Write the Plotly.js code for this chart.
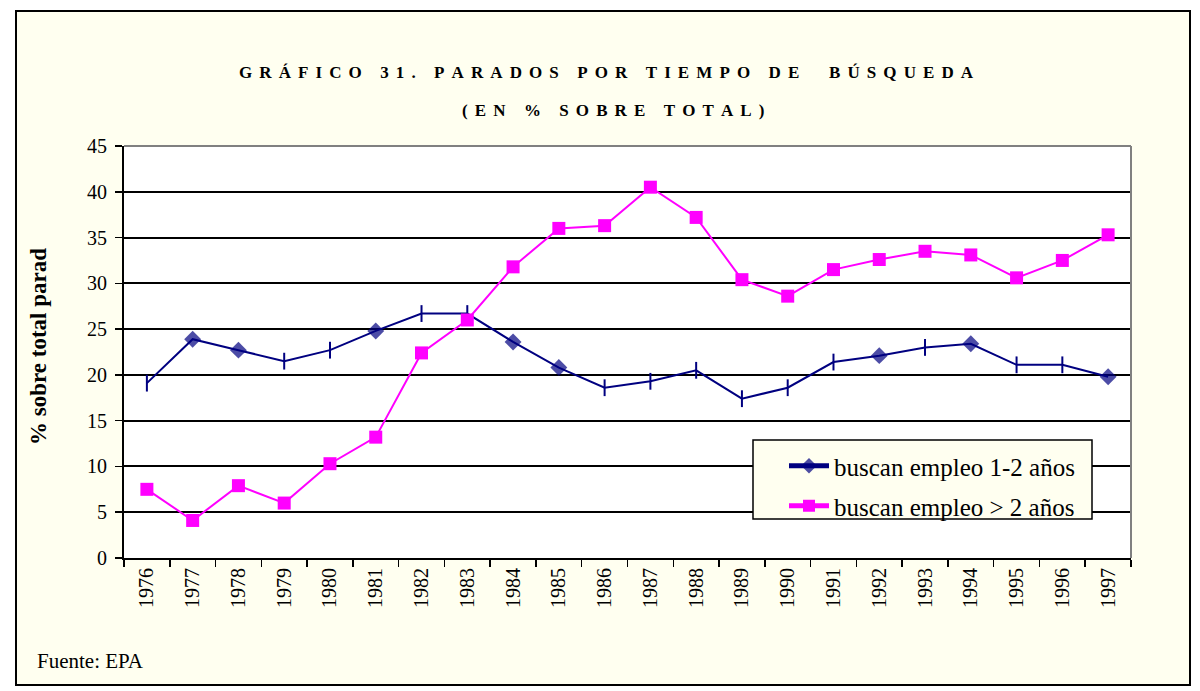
<!DOCTYPE html>
<html>
<head>
<meta charset="utf-8">
<script src="https://cdn.plot.ly/plotly-3.0.1.min.js"></script>
<style>
  html, body { margin: 0; padding: 0; background: #ffffff; }
  #frame { position: absolute; left: 15px; top: 10px; width: 1176px; height: 676px;
           box-sizing: border-box; border: 2px solid #000; background: #FFFFF0; }
  #chart { position: absolute; left: 0; top: 0; width: 1200px; height: 691px; }
</style>
</head>
<body>
<div id="frame"></div>
<div id="chart"></div>
<script>
// ---- data ----
const years = ['1976','1977','1978','1979','1980','1981','1982','1983','1984','1985','1986',
               '1987','1988','1989','1990','1991','1992','1993','1994','1995','1996','1997'];
const busca12 = [19.1, 23.9, 22.7, 21.5, 22.7, 24.8, 26.7, 26.7, 23.6, 20.8, 18.6,
                 19.3, 20.5, 17.4, 18.6, 21.4, 22.1, 23.0, 23.4, 21.1, 21.1, 19.8];
const buscaMas2 = [7.5, 4.1, 7.9, 6.0, 10.3, 13.2, 22.4, 26.0, 31.8, 36.0, 36.3,
                   40.5, 37.2, 30.4, 28.6, 31.5, 32.6, 33.5, 33.1, 30.6, 32.5, 35.3];
const seriesNames = ['buscan empleo 1-2 años', 'buscan empleo > 2 años'];
const titleLine1 = 'GRÁFICO 31. PARADOS POR TIEMPO DE  BÚSQUEDA';
const titleLine2 = '(EN % SOBRE TOTAL)';
const yLabel = '% sobre total parad';
const source = 'Fuente: EPA';

// ---- style ----
const NAVY = '#000080', MAGENTA = '#FF00FF';
const SERIF = '"Liberation Serif", "Times New Roman", Times, serif';
// which points of the navy series show a diamond (others show a short vertical tick)
const diamondYears = ['1977','1978','1981','1984','1985','1992','1994','1997'];

function spaced(s) {
  let out = '';
  for (let i = 0; i < s.length; i++) {
    out += s[i];
    if (i < s.length - 1) out += '\u2004\u200a';
  }
  return out;
}

const isD = years.map(y => diamondYears.includes(y));
const tickX = years.filter((y, i) => !isD[i]);
const tickY = busca12.filter((v, i) => !isD[i]);

const traces = [
  {
    x: years, y: busca12, name: seriesNames[0], type: 'scatter', mode: 'lines+markers',
    line: { color: NAVY, width: 2 },
    marker: { symbol: 'diamond', color: NAVY, size: isD.map(d => d ? 13 : 0), line: { width: 0 } },
    legend: 'legend', cliponaxis: false
  },
  {
    x: tickX, y: tickY, type: 'scatter', mode: 'markers', showlegend: false, hoverinfo: 'skip',
    marker: { symbol: 'line-ns', size: 12, color: NAVY, line: { color: NAVY, width: 2 } }
  },
  {
    x: years, y: buscaMas2, name: seriesNames[1], type: 'scatter', mode: 'lines+markers',
    line: { color: MAGENTA, width: 2 },
    marker: { symbol: 'square', color: MAGENTA, size: 13, line: { width: 0 } },
    legend: 'legend2', cliponaxis: false
  }
];

const L = 124, R = 1131, T = 146, B = 558;
const px = v => (v - L) / (R - L);
const py = v => (B - v) / (B - T);

const legendCommon = {
  bgcolor: 'rgba(0,0,0,0)', borderwidth: 0, itemsizing: 'constant', itemwidth: 40,
  font: { family: SERIF, size: 25, color: '#000' }, xanchor: 'left', yanchor: 'middle'
};

const layout = {
  width: 1200, height: 691,
  margin: { l: L, r: 1200 - R, t: T, b: 691 - B, pad: 0 },
  paper_bgcolor: 'rgba(0,0,0,0)', plot_bgcolor: '#ffffff',
  font: { family: SERIF, color: '#000' },
  showlegend: true,
  xaxis: {
    type: 'category', categoryorder: 'array', categoryarray: years,
    range: [-0.5, years.length - 0.5],
    tickson: 'boundaries', ticks: 'outside', ticklen: 7, tickwidth: 1.5, tickcolor: '#000',
    tickangle: -90, tickfont: { family: SERIF, size: 20, color: '#000' },
    showline: true, linecolor: '#000', linewidth: 2, showgrid: false, zeroline: false,
    fixedrange: true
  },
  yaxis: {
    range: [0, 45], dtick: 5, tick0: 0, ticks: 'outside', ticklen: 7, tickwidth: 1.5, tickcolor: '#000',
    tickfont: { family: SERIF, size: 20, color: '#000' }, ticklabelstandoff: 4,
    showline: true, linecolor: '#000', linewidth: 2,
    showgrid: true, gridcolor: '#000', gridwidth: 2, zeroline: false, fixedrange: true
  },
  legend: Object.assign({}, legendCommon, { x: px(784), y: py(466) }),
  legend2: Object.assign({}, legendCommon, { x: px(784), y: py(506) }),
  shapes: [
    { type: 'line', xref: 'paper', yref: 'paper', x0: 0, x1: 1, y0: 1, y1: 1,
      line: { color: '#808080', width: 2 }, layer: 'above' },
    { type: 'line', xref: 'paper', yref: 'paper', x0: 1, x1: 1, y0: 0, y1: 1,
      line: { color: '#808080', width: 2 }, layer: 'above' },
    { type: 'rect', xref: 'paper', yref: 'paper', x0: px(753), x1: px(1092), y0: py(519), y1: py(440),
      fillcolor: '#FFFFF0', line: { color: '#000', width: 1.5 }, layer: 'above' }
  ],
  annotations: [
    { text: '<b>' + spaced(titleLine1) + '</b>', xref: 'paper', yref: 'paper', x: px(606), y: py(73),
      xanchor: 'center', yanchor: 'middle', showarrow: false,
      font: { family: SERIF, size: 17, color: '#000' } },
    { text: '<b>' + spaced(titleLine2) + '</b>', xref: 'paper', yref: 'paper', x: px(613), y: py(110),
      xanchor: 'center', yanchor: 'middle', showarrow: false,
      font: { family: SERIF, size: 17, color: '#000' } },
    { text: '<b>' + yLabel + '</b>', xref: 'paper', yref: 'paper', x: px(38), y: py(347),
      xanchor: 'center', yanchor: 'middle', textangle: -90, showarrow: false,
      font: { family: SERIF, size: 23, color: '#000' } },
    { text: source, xref: 'paper', yref: 'paper', x: px(35), y: py(661),
      xanchor: 'left', yanchor: 'middle', showarrow: false,
      font: { family: SERIF, size: 21, color: '#000' } }
  ]
};

Plotly.newPlot('chart', traces, layout, { staticPlot: true, displayModeBar: false });
</script>
</body>
</html>
